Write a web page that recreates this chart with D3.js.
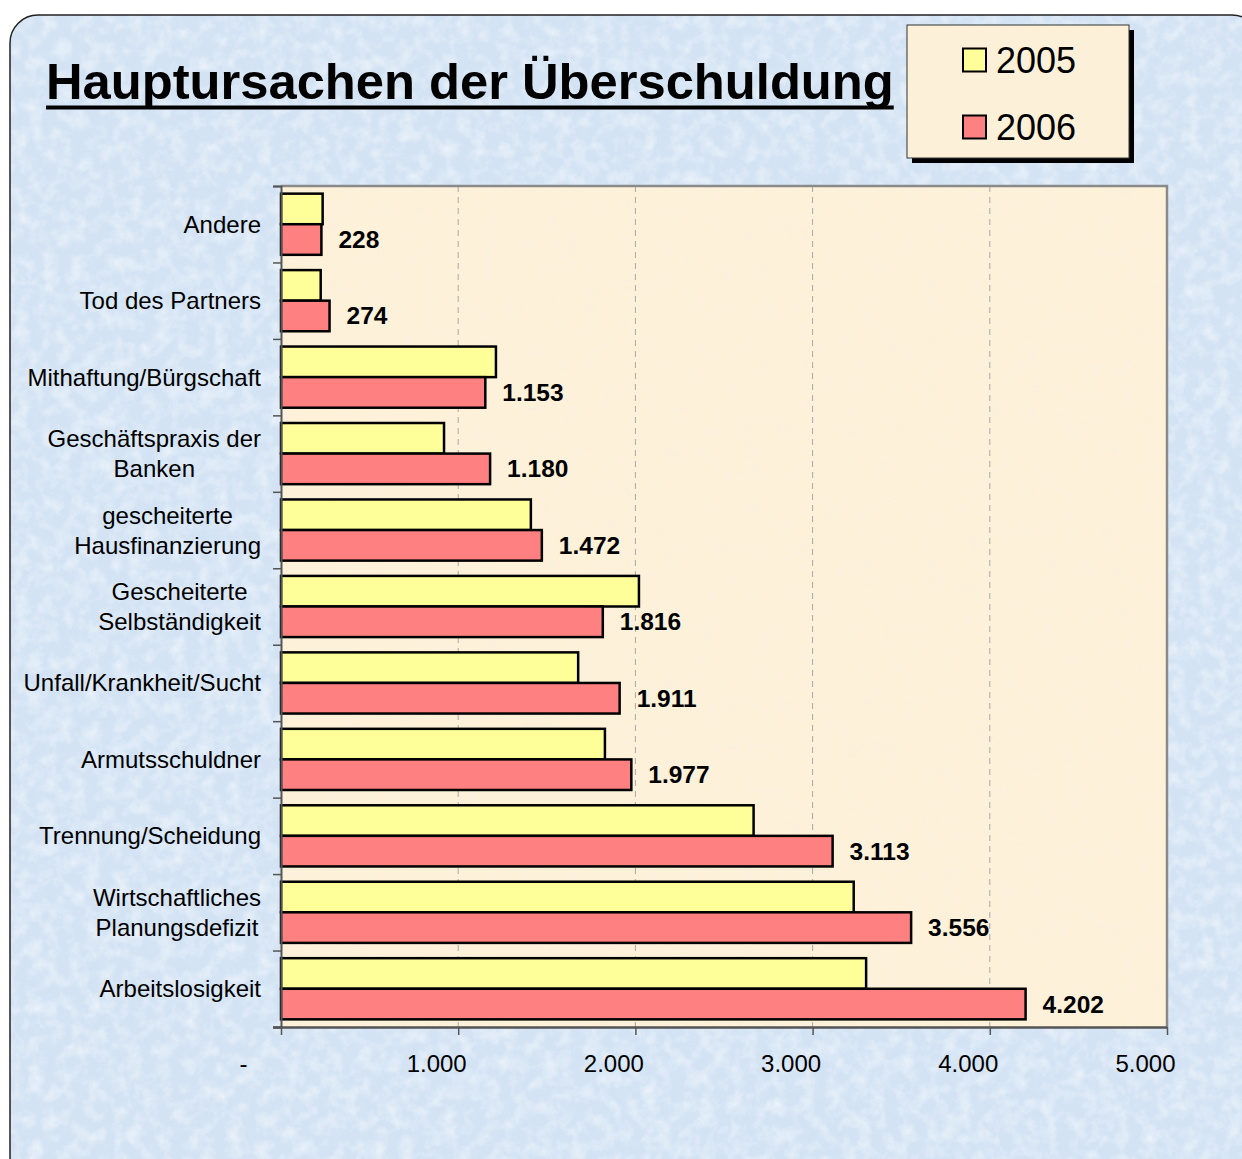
<!DOCTYPE html>
<html>
<head>
<meta charset="utf-8">
<script src="https://cdn.jsdelivr.net/npm/d3@7"></script>
<style>
  html, body { margin: 0; padding: 0; background: #ffffff; }
  svg { display: block; }
  text { font-family: Arial, "Liberation Sans", sans-serif; }
</style>
</head>
<body>
<svg id="chart" width="1242" height="1159"></svg>
<script>
// ---- data ----
const titleText = "Hauptursachen der Überschuldung";
const categories = [
  "Andere",
  "Tod des Partners",
  "Mithaftung/Bürgschaft",
  "Geschäftspraxis der Banken",
  "gescheiterte Hausfinanzierung",
  "Gescheiterte Selbständigkeit",
  "Unfall/Krankheit/Sucht",
  "Armutsschuldner",
  "Trennung/Scheidung",
  "Wirtschaftliches Planungsdefizit",
  "Arbeitslosigkeit"
];
const categoryLines = [
  ["Andere"],
  ["Tod des Partners"],
  ["Mithaftung/Bürgschaft"],
  ["Geschäftspraxis der", "Banken"],
  ["gescheiterte", "Hausfinanzierung"],
  ["Gescheiterte", "Selbständigkeit"],
  ["Unfall/Krankheit/Sucht"],
  ["Armutsschuldner"],
  ["Trennung/Scheidung"],
  ["Wirtschaftliches", "Planungsdefizit"],
  ["Arbeitslosigkeit"]
];
const seriesNames = ["2005", "2006"];
const values2005 = [235, 224, 1213, 920, 1410, 2020, 1677, 1828, 2667, 3232, 3302];
const values2006 = [228, 274, 1153, 1180, 1472, 1816, 1911, 1977, 3113, 3556, 4202];
const xTickValues = [0, 1000, 2000, 3000, 4000, 5000];
const xTickLabels = ["-", "1.000", "2.000", "3.000", "4.000", "5.000"];
const seriesColors = ["#FFFF99", "#FF8080"];

// ---- setup ----
const svg = d3.select("#chart");
const W = 1242, H = 1159;
const plot = { left: 281, right: 1167, top: 186, bottom: 1027 };

const de = d3.formatLocale({ decimal: ",", thousands: ".", grouping: [3], currency: ["", " €"] });
const fmt = de.format(",d");

const defs = svg.append("defs");
defs.append("clipPath").attr("id", "panelClip")
  .append("rect").attr("x", 10).attr("y", 15).attr("width", 1250).attr("height", 1170).attr("rx", 28);

function noiseFilter(id, freq, oct, seed, r, g, b, a1, a0) {
  const f = defs.append("filter").attr("id", id)
    .attr("x", 0).attr("y", 0).attr("width", W).attr("height", H)
    .attr("filterUnits", "userSpaceOnUse");
  f.append("feTurbulence").attr("type", "fractalNoise").attr("baseFrequency", freq)
    .attr("numOctaves", oct).attr("seed", seed).attr("result", "n");
  f.append("feColorMatrix").attr("in", "n").attr("type", "matrix")
    .attr("values", `0 0 0 0 ${r}  0 0 0 0 ${g}  0 0 0 0 ${b}  ${a1} 0 0 0 ${a0}`);
  return f;
}
noiseFilter("blueLight", 0.07, 4, 4, 1, 1, 1, 2.0, -0.8);
noiseFilter("blueDark", 0.09, 3, 9, 0.70, 0.80, 0.92, 2.0, -0.9);
noiseFilter("creamDark", 0.05, 3, 11, 0.94, 0.86, 0.70, 1.6, -0.8);

// ---- background panel ----
const panel = svg.append("g").attr("clip-path", "url(#panelClip)");
panel.append("rect").attr("x", 0).attr("y", 0).attr("width", W).attr("height", H).attr("fill", "#D3E3F4");
panel.append("rect").attr("x", 0).attr("y", 0).attr("width", W).attr("height", H)
  .attr("filter", "url(#blueDark)").attr("opacity", 0.5);
panel.append("rect").attr("x", 0).attr("y", 0).attr("width", W).attr("height", H)
  .attr("filter", "url(#blueLight)").attr("opacity", 0.5);
svg.append("rect").attr("x", 10).attr("y", 15).attr("width", 1250).attr("height", 1170).attr("rx", 28)
  .attr("fill", "none").attr("stroke", "#222").attr("stroke-width", 1.5);

// ---- title ----
const title = svg.append("text").attr("x", 46).attr("y", 99)
  .attr("font-size", 50.7).attr("font-weight", "bold").attr("fill", "#000").text(titleText);
const tw = title.node().getComputedTextLength();
svg.append("rect").attr("x", 46).attr("y", 105.5).attr("width", tw).attr("height", 4).attr("fill", "#000");

// ---- scales ----
const x = d3.scaleLinear().domain([0, 5000]).range([plot.left, plot.right]);
const y = d3.scaleBand().domain(categories).range([plot.top, plot.bottom]).paddingInner(0.2).paddingOuter(0.1);
const ySub = d3.scaleBand().domain(seriesNames).range([0, y.bandwidth()]);
const yIdx = d3.scaleLinear().domain([0, categories.length]).range([plot.top, plot.bottom]);

// ---- plot area ----
defs.append("clipPath").attr("id", "plotClip").append("rect")
  .attr("x", plot.left).attr("y", plot.top).attr("width", plot.right - plot.left).attr("height", plot.bottom - plot.top);
const pa = svg.append("g").attr("clip-path", "url(#plotClip)");
pa.append("rect").attr("x", plot.left).attr("y", plot.top)
  .attr("width", plot.right - plot.left).attr("height", plot.bottom - plot.top).attr("fill", "#FDF1DA");
pa.append("rect").attr("x", plot.left).attr("y", plot.top)
  .attr("width", plot.right - plot.left).attr("height", plot.bottom - plot.top)
  .attr("filter", "url(#creamDark)").attr("opacity", 0.4);

// gridlines
svg.append("g").selectAll("line").data(xTickValues.slice(1, -1)).join("line")
  .attr("x1", d => x(d)).attr("x2", d => x(d))
  .attr("y1", plot.top).attr("y2", plot.bottom)
  .attr("stroke", "#a8a8a8").attr("stroke-width", 1).attr("stroke-dasharray", "6,5");

// plot border (top/right)
svg.append("path")
  .attr("d", `M${plot.left},${plot.top}H${plot.right}V${plot.bottom}`)
  .attr("fill", "none").attr("stroke", "#8a8a8a").attr("stroke-width", 2.5);

// ---- bars ----
const rows = categories.map((c, i) => ({ cat: c, vals: [values2005[i], values2006[i]] }));
const gRows = svg.append("g").selectAll("g").data(rows).join("g")
  .attr("transform", d => `translate(0,${y(d.cat)})`);
gRows.selectAll("rect").data(d => d.vals.map((v, k) => ({ v, s: seriesNames[k], k }))).join("rect")
  .attr("x", x(0))
  .attr("y", d => ySub(d.s))
  .attr("width", d => x(d.v) - x(0))
  .attr("height", ySub.bandwidth())
  .attr("fill", d => seriesColors[d.k])
  .attr("stroke", "#000").attr("stroke-width", 2.5);

// value labels (2006)
svg.append("g").selectAll("text").data(rows).join("text")
  .attr("x", d => x(d.vals[1]) + 17)
  .attr("y", d => y(d.cat) + ySub("2006") + ySub.bandwidth() / 2 + 8.5)
  .attr("font-size", 24.5).attr("font-weight", "bold").attr("fill", "#000")
  .text(d => fmt(d.vals[1]));

// ---- axes ----
const yAxis = svg.append("g").attr("transform", `translate(${plot.left},0)`)
  .call(d3.axisLeft(yIdx).tickValues(d3.range(categories.length + 1)).tickSize(8).tickFormat(""));
yAxis.select(".domain").attr("stroke", "#555").attr("stroke-width", 2);
yAxis.selectAll(".tick line").attr("stroke", "#555").attr("stroke-width", 1.5);

const xAxis = svg.append("g").attr("transform", `translate(0,${plot.bottom})`)
  .call(d3.axisBottom(x).tickValues(xTickValues).tickSize(8).tickSizeOuter(0)
    .tickFormat((d, i) => xTickLabels[i]));
xAxis.select(".domain").attr("stroke", "#555").attr("stroke-width", 2.5)
  .attr("d", `M${plot.left - 8},0.5H${plot.right}`);
xAxis.selectAll(".tick line").attr("stroke", "#555").attr("stroke-width", 1.5);
xAxis.selectAll(".tick text")
  .attr("font-size", 24).attr("fill", "#000")
  .attr("font-family", "Arial, 'Liberation Sans', sans-serif")
  .attr("text-anchor", "end")
  .attr("dy", null)
  .attr("y", 45)
  .attr("x", (d, i) => i === 0 ? -34 : 8);

// ---- category labels ----
const labelRight = 261;
categoryLines.forEach((lines, i) => {
  const cy = y(categories[i]) + y.bandwidth() / 2;
  const g = svg.append("g");
  const texts = lines.map((ln, j) => g.append("text")
    .attr("font-size", 24).attr("fill", "#000")
    .attr("text-anchor", "middle")
    .attr("y", cy + (j - (lines.length - 1) / 2) * 30 + 8.5)
    .text(ln));
  const maxW = d3.max(texts, t => t.node().getComputedTextLength());
  texts.forEach(t => t.attr("x", labelRight - maxW / 2));
});

// ---- legend ----
const lg = svg.append("g");
lg.append("rect").attr("x", 912).attr("y", 30).attr("width", 222).attr("height", 133).attr("fill", "#000");
lg.append("rect").attr("x", 907).attr("y", 25).attr("width", 222).attr("height", 133)
  .attr("fill", "#FDF0D8").attr("stroke", "#333").attr("stroke-width", 1);
const legY = [60, 127];
seriesNames.forEach((s, k) => {
  lg.append("rect").attr("x", 963).attr("y", legY[k] - 11.5).attr("width", 23).attr("height", 23)
    .attr("fill", seriesColors[k]).attr("stroke", "#000").attr("stroke-width", 2);
  lg.append("text").attr("x", 996).attr("y", legY[k] + 13).attr("font-size", 36).attr("fill", "#000").text(s);
});
</script>
</body>
</html>
